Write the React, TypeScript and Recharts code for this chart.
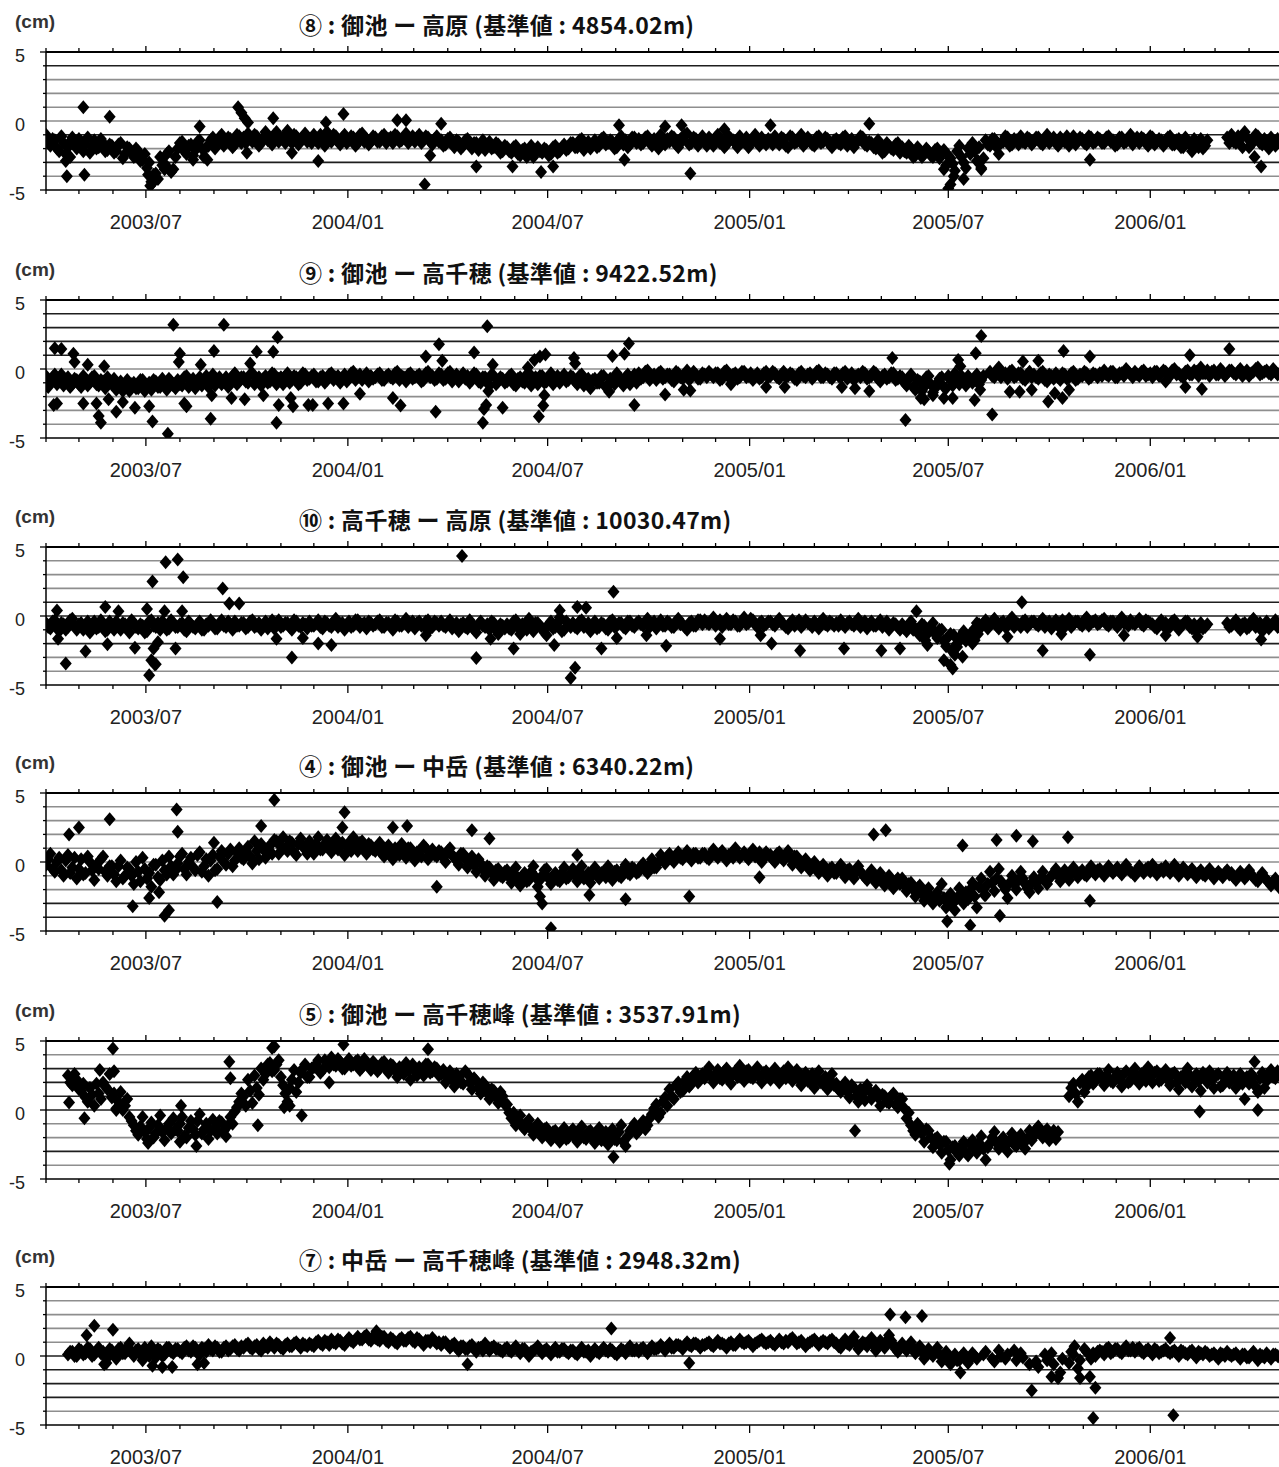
import React from 'react';
import { ScatterChart, Scatter, XAxis, YAxis, CartesianGrid } from 'recharts';

// ---------- categories / ticks ----------
const MONTHS = [
  '2003/04', '2003/05', '2003/06', '2003/07', '2003/08', '2003/09', '2003/10', '2003/11', '2003/12',
  '2004/01', '2004/02', '2004/03', '2004/04', '2004/05', '2004/06', '2004/07', '2004/08', '2004/09',
  '2004/10', '2004/11', '2004/12', '2005/01', '2005/02', '2005/03', '2005/04', '2005/05', '2005/06',
  '2005/07', '2005/08', '2005/09', '2005/10', '2005/11', '2005/12', '2006/01', '2006/02', '2006/03',
  '2006/04', '2006/05',
];
const LABELED_MONTHS = ['2003/07', '2004/01', '2004/07', '2005/01', '2005/07', '2006/01'];
const Y_TICKS = [-5, -4, -3, -2, -1, 0, 1, 2, 3, 4, 5];
const Y_LABELS = [5, 0, -5];
// main readings: one every 4 days from 2003/04/01; "mid" readings: the days in between (offset 2 days)
const STEP_DAYS = 4;
const MID_OFFSET = 2;

const START = Date.UTC(2003, 3, 1);
const dayOf = (ym: string) => {
  const [y, m] = ym.split('/').map(Number);
  return Math.round((Date.UTC(y, m - 1, 1) - START) / 86400000);
};
const MONTH_DAYS = MONTHS.map(dayOf);
const LABEL_BY_DAY: Record<number, string> = {};
LABELED_MONTHS.forEach((m) => (LABEL_BY_DAY[dayOf(m)] = m));
const X_END = MONTH_DAYS[MONTH_DAYS.length - 1];

type V = number | null;

// ---------- ⑧ 御池 − 高原 ----------
const miikeTakaharu: V[] = [
  -1.0, -1.8, -1.4, -2.2, -1.6, -1.9, -1.2, -2.0, -1.5, -1.7, -2.3, -1.4, -1.9, -1.6, -2.1,
  -1.8, -2.2, -1.6, -2.4, -2.0, -2.6, -2.2, -2.8, -3.4, -4.4, -3.8, -2.6, -3.1, -2.2, -3.5,
  -2.0, -1.5, -2.4, -1.7, -2.1, -1.4, -2.6, -1.8, -1.2, -1.6, -1.0, -1.5, -1.3, -1.7, -1.1,
  -1.2, -0.9, -1.5, -1.1, -1.6, -0.8, -1.3, -1.0, -1.5, -1.2, -0.7, -1.6, -1.1, -1.4, -0.9,
  -1.3, -1.0, -1.6, -1.2, -0.8, -1.5, -1.1, -1.7, -1.0, -1.4, -1.2, -1.6, -0.9, -1.3, -1.5,
  -1.2, -1.5, -1.0, -1.3, -1.6, -1.1, -1.4, -0.9, -1.3, -1.5, -1.0, -1.4, -1.2, -1.7, -1.1,
  -1.4, -1.7, -1.2, -1.9, -1.5, -1.8, -1.3, -2.0, -1.6, -1.8, -2.1, -1.5, -1.9, -1.7, -2.2,
  -1.9, -2.3, -1.8, -2.5, -2.0, -2.2, -2.6, -1.9, -2.3, -2.1, -2.4, -1.8, -2.2, -1.7, -2.0,
  -1.6, -1.9, -1.3, -1.7, -2.0, -1.4, -1.8, -1.2, -1.6, -1.5, -1.9, -1.1, -1.4, -1.7, -1.2,
  -1.3, -1.6, -1.1, -1.8, -1.4, -1.0, -1.7, -1.5, -1.2, -1.9, -1.4, -0.9, -1.6, -1.3, -1.5,
  -1.5, -1.2, -1.8, -1.0, -1.4, -1.7, -1.3, -1.6, -1.1, -1.5, -1.9, -1.3, -1.6, -1.2, -1.7,
  -1.4, -1.1, -1.7, -1.3, -1.9, -1.2, -1.5, -1.0, -1.6, -1.4, -1.8, -1.1, -1.5, -1.3, -1.9,
  -1.3, -1.7, -1.1, -1.5, -1.9, -1.4, -1.2, -1.8, -1.6, -2.0, -1.7, -2.2, -1.8, -2.1, -1.6,
  -1.9, -2.3, -2.0, -2.5, -2.1, -2.4, -2.2, -2.6, -2.0, -2.3, -3.2, -2.7, -3.6, -1.8, -3.0,
  -2.0, -1.6, -2.9, -3.4, -1.4, -1.8, -1.3, -2.4, -1.5, -1.2, -1.7, -1.4, -1.1, -1.6, -1.3,
  -1.5, -1.2, -1.7, -1.0, -1.4, -1.6, -1.2, -1.5, -1.8, -1.1, -1.4, -1.3, -1.7, -1.2, -1.5,
  -1.3, -1.6, -1.1, -1.4, -1.7, -1.2, -1.5, -1.0, -1.4, -1.6, -1.3, -1.8, -1.2, -1.5, -1.4,
  -1.4, -1.1, -1.7, -1.3, -1.9, -1.5, -2.2, -1.6, -1.3, -1.8, null, null, null, null, -1.2,
  -1.0, -1.6, -1.3, -0.8, -1.9, -1.4, -1.1, -1.7, -1.5, -1.2, -1.8, -1.6,
];
const miikeTakaharuMid: V[] = [
  -1.6, -1.3, -2.0, -1.1, -2.4, -1.5, -1.7, -1.3, -2.2, -1.2, -1.8, -2.0, -1.3, -2.2, -1.7,
  -2.3, -1.7, -2.7, -1.9, -2.3, -2.0, -2.9, -2.4, -3.0, -3.9, -4.2, -3.2, -2.4, -3.7, -2.6,
  -1.6, -2.2, -1.8, -2.5, -1.5, -2.0, -1.9, -1.4, -2.0, -1.2, -1.8, -1.2, -1.9, -1.0, -1.6,
  -1.6, -1.3, -1.0, -1.8, -1.2, -1.4, -1.7, -0.8, -1.3, -1.6, -1.3, -1.0, -1.7, -1.2, -1.5,
  -1.6, -1.4, -1.0, -1.8, -1.3, -1.0, -1.5, -1.2, -1.6, -1.1, -1.8, -1.0, -1.5, -1.7, -1.1,
  -1.5, -1.1, -1.6, -1.2, -1.0, -1.5, -1.2, -1.6, -1.1, -1.2, -1.6, -1.1, -1.5, -1.3, -1.5,
  -1.8, -1.3, -1.6, -1.4, -2.0, -1.4, -1.7, -1.6, -2.1, -1.4, -1.7, -2.0, -1.6, -2.3, -1.8,
  -2.2, -1.9, -2.4, -2.1, -2.6, -1.8, -2.3, -2.2, -2.0, -2.5, -1.9, -2.3, -1.9, -2.1, -1.6,
  -1.9, -1.4, -2.1, -1.5, -1.7, -1.9, -1.3, -1.7, -1.4, -2.0, -1.3, -1.7, -1.9, -1.2, -1.6,
  -1.7, -1.2, -1.5, -1.3, -2.0, -1.6, -1.3, -1.1, -1.7, -1.3, -1.0, -1.7, -1.2, -1.8, -1.1,
  -1.8, -1.4, -1.2, -1.6, -1.9, -1.1, -1.4, -1.9, -1.5, -1.2, -1.6, -1.0, -1.8, -1.5, -1.3,
  -1.7, -1.5, -1.2, -1.8, -1.1, -1.6, -1.3, -1.8, -1.2, -1.7, -1.2, -1.6, -1.2, -1.7, -1.4,
  -1.6, -1.2, -1.8, -1.3, -1.6, -1.1, -1.7, -1.5, -1.9, -1.4, -2.3, -1.6, -2.0, -1.7, -2.3,
  -2.2, -1.8, -2.6, -1.9, -2.6, -2.0, -2.5, -2.1, -2.7, -2.1, -2.5, -3.1, -2.2, -2.6, -3.4,
  -2.4, -2.2, -1.9, -2.7, -1.7, -1.3, -1.9, -1.6, -1.1, -1.8, -1.3, -1.7, -1.5, -1.2, -1.7,
  -1.2, -1.6, -1.3, -1.6, -1.2, -1.8, -1.4, -1.1, -1.4, -1.7, -1.2, -1.6, -1.1, -1.6, -1.2,
  -1.6, -1.2, -1.5, -1.8, -1.2, -1.6, -1.3, -1.7, -1.2, -1.2, -1.6, -1.1, -1.7, -1.3, -1.8,
  -1.2, -1.7, -1.4, -1.9, -1.2, -1.7, -1.3, -1.9, -2.0, -1.4, null, null, null, null, -1.6,
  -1.5, -1.1, -1.9, -1.2, -1.7, -1.0, -1.6, -1.3, -2.0, -1.6, -1.3,
];
const miikeTakaharuExtra: [number, number][] = [
  [18, -2.9], [22, -2.6], [19, -4.0], [34, 1.0], [35, -3.9], [58, 0.3], [93, -3.9], [95, -4.7],
  [97, -4.5], [99, -4.3], [108, -3.5], [112, -3.5], [134, -2.8], [140, -0.4], [147, -2.8],
  [175, 1.0], [178, 0.6], [181, 0.2], [184, -0.1], [183, -2.3], [207, 0.2], [224, -2.3],
  [248, -2.9], [255, -0.1], [271, 0.5], [320, 0.05], [328, 0.05], [345, -4.6], [350, -2.5],
  [360, -0.2], [392, -3.3], [425, -3.3], [451, -3.7], [462, -3.3], [522, -0.3], [527, -2.8],
  [564, -0.4], [579, -0.3], [587, -3.8], [618, -0.6], [660, -0.3], [750, -0.2], [818, -3.5],
  [822, -4.9], [824, -4.6], [827, -4.0], [836, -4.2], [849, -2.9], [852, -3.5], [951, -2.8],
  [1101, -2.6], [1107, -3.3],
];

// ---------- ⑨ 御池 − 高千穂 ----------
const miikeTakachiho: V[] = [
  -0.5, -1.0, -0.4, -0.9, -1.2, -0.6, -1.1, -0.8, -1.3, -0.7, -1.0, -0.5, -1.2, -0.9, -0.6,
  -1.1, -1.5, -0.9, -1.3, -1.6, -1.0, -1.4, -0.8, -1.2, -1.5, -0.9, -1.3, -1.1, -0.7, -1.2,
  -0.8, -1.2, -0.5, -1.0, -1.4, -0.6, -0.9, -1.3, -0.4, -0.8, -1.1, -0.6, -1.0, -0.3, -0.9,
  -0.6, -1.0, -0.3, -0.8, -1.2, -0.5, -0.9, -0.4, -0.7, -1.1, -0.3, -0.8, -0.6, -1.0, -0.4,
  -0.7, -0.4, -0.9, -0.5, -0.8, -0.3, -0.6, -1.0, -0.4, -0.7, -0.2, -0.6, -0.8, -0.3, -0.5,
  -0.6, -0.3, -0.8, -0.4, -0.7, -0.2, -0.5, -0.9, -0.3, -0.6, -0.4, -0.8, -0.2, -0.5, -0.7,
  -0.4, -0.7, -0.2, -0.6, -0.9, -0.3, -0.5, -0.8, -0.4, -1.0, -0.6, -1.2, -0.5, -0.9, -0.7,
  -0.9, -0.4, -1.2, -0.6, -1.0, -0.3, -0.8, -1.1, -0.5, -0.9, -0.3, -0.7, -1.0, -0.4, -0.8,
  -0.6, -1.1, -0.4, -0.9, -1.4, -0.7, -1.0, -0.5, -1.2, -0.8, -0.3, -0.9, -0.6, -1.1, -0.4,
  -0.3, -0.6, -0.1, -0.5, -0.8, -0.2, -0.6, -0.4, -0.9, -0.3, -0.7, -0.1, -0.5, -0.4, -0.7,
  -0.4, -0.2, -0.6, -0.3, -0.7, -0.1, -0.5, -0.3, -0.6, -0.2, -0.5, -0.8, -0.3, -0.6, -0.2,
  -0.5, -0.3, -0.7, -0.2, -0.5, -0.4, -0.8, -0.2, -0.6, -0.3, -0.5, -0.1, -0.6, -0.4, -0.7,
  -0.3, -0.6, -0.2, -0.5, -0.8, -0.4, -0.2, -0.7, -0.5, -0.3, -0.9, -0.4, -0.6, -0.3, -0.7,
  -0.6, -1.2, -0.4, -1.5, -0.9, -1.3, -0.5, -1.7, -1.0, -0.6, -1.4, -0.8, -0.3, -1.1, -0.7,
  -0.5, -1.0, -0.4, -0.8, null, -0.2, -0.6, 0.1, -0.4, -0.7, -0.1, -0.5, -0.3, -0.8, -0.2,
  -0.4, -0.7, -0.2, -0.9, -0.5, -0.3, -0.8, -0.4, -0.6, -0.2, -0.7, -0.5, -0.3, -0.6, -0.4,
  -0.3, -0.1, -0.5, -0.2, -0.6, -0.3, 0.0, -0.4, -0.2, -0.5, -0.1, -0.4, -0.6, -0.2, -0.3,
  -0.2, -0.5, 0.0, -0.3, -0.6, -0.1, -0.4, -0.2, 0.1, -0.3, -0.5, -0.1, -0.4, -0.2, -0.3,
  -0.1, -0.4, 0.0, -0.3, -0.5, -0.2, 0.1, -0.3, -0.1, -0.4, -0.2, -0.3,
];
const miikeTakachihoMid: V[] = [
  -1.3, -0.6, -1.1, -0.4, -0.8, -1.3, -0.7, -1.1, -0.5, -1.2, -0.6, -1.1, -0.8, -1.4, -1.0,
  -0.7, -1.2, -1.6, -0.8, -1.1, -1.4, -0.8, -1.6, -1.0, -0.8, -1.3, -0.7, -1.5, -0.9, -1.4,
  -1.1, -0.6, -1.3, -0.7, -0.9, -1.2, -0.5, -1.0, -1.2, -0.6, -0.9, -1.3, -0.5, -1.1, -0.6,
  -0.9, -0.4, -1.1, -0.6, -0.7, -1.0, -0.3, -1.1, -0.6, -0.5, -1.0, -0.5, -1.1, -0.3, -0.8,
  -0.5, -0.9, -0.6, -1.0, -0.4, -0.8, -0.5, -0.7, -0.9, -0.3, -0.8, -0.4, -0.5, -0.9, -0.7,
  -0.4, -0.8, -0.5, -0.6, -0.3, -0.8, -0.6, -0.4, -0.7, -0.5, -0.9, -0.3, -0.6, -0.8, -0.3,
  -0.8, -0.3, -0.9, -0.4, -0.6, -0.7, -1.0, -0.3, -0.9, -0.6, -0.8, -0.4, -1.1, -0.6, -1.0,
  -0.5, -1.1, -0.7, -0.9, -0.4, -1.2, -0.6, -0.5, -1.0, -0.6, -1.1, -0.5, -0.6, -0.9, -0.5,
  -0.9, -0.5, -1.2, -0.7, -0.8, -1.0, -0.5, -1.3, -0.7, -1.1, -0.6, -1.2, -0.4, -0.8, -1.0,
  -0.7, -0.2, -0.8, -0.4, -0.3, -0.7, -0.4, -0.8, -0.2, -0.6, -0.4, -0.8, -0.2, -0.7, -0.3,
  -0.6, -0.4, -0.3, -0.8, -0.2, -0.6, -0.4, -0.7, -0.2, -0.6, -0.3, -0.5, -0.7, -0.3, -0.6,
  -0.2, -0.6, -0.4, -0.6, -0.3, -0.7, -0.3, -0.5, -0.4, -0.7, -0.2, -0.6, -0.3, -0.6, -0.3,
  -0.5, -0.3, -0.7, -0.3, -0.5, -0.6, -0.3, -0.6, -0.2, -0.7, -0.5, -0.7, -0.3, -0.8, -0.5,
  -1.0, -0.7, -1.3, -0.8, -1.6, -0.6, -1.1, -1.4, -0.7, -1.3, -0.5, -1.2, -0.8, -0.5, -1.2,
  -0.8, -0.6, -1.1, -0.5, null, -0.5, -0.1, -0.6, -0.3, -0.2, -0.6, -0.3, -0.7, -0.4, -0.6,
  -0.6, -0.3, -0.8, -0.4, -0.7, -0.6, -0.3, -0.7, -0.3, -0.8, -0.4, -0.2, -0.7, -0.3, -0.6,
  -0.5, -0.4, -0.2, -0.6, -0.3, -0.5, -0.2, -0.6, -0.4, -0.2, -0.5, -0.3, -0.2, -0.5, -0.1,
  -0.4, -0.1, -0.4, -0.5, -0.2, -0.4, -0.1, -0.5, -0.3, -0.1, -0.2, -0.4, 0.0, -0.5, -0.1,
  -0.3, -0.2, -0.5, -0.1, -0.3, 0.0, -0.4, -0.2, -0.3, 0.0, -0.4,
];
const miikeTakachihoExtra: [number, number][] = [
  [8, 1.5], [14, 1.45], [7, -2.6], [10, -2.5], [25, 1.1], [26, 0.5], [34, -2.5], [38, 0.3],
  [46, -2.5], [48, -3.4], [50, -3.9], [53, 0.2], [57, -2.2], [64, -3.1], [70, -2.4], [81, -2.8],
  [94, -2.7], [97, -3.8], [111, -4.7], [116, 3.2], [122, 1.1], [121, 0.5], [126, -2.5],
  [128, -2.7], [141, 0.3], [153, 1.3], [150, -3.6], [151, -1.9], [162, 3.2], [169, -2.1],
  [181, -2.2], [186, 0.4], [192, 1.25], [207, 1.25], [211, 2.3], [198, -1.9], [212, -2.6],
  [210, -3.9], [223, -2.1], [225, -2.7], [239, -2.6], [243, -2.6], [257, -2.5], [271, -2.5],
  [286, -1.8], [316, -2.1], [323, -2.65], [346, 0.9], [358, 1.8], [361, 0.6], [355, -3.1],
  [390, 1.2], [402, 3.1], [407, 0.3], [403, -1.6], [401, -2.6], [399, -2.9], [398, -3.9],
  [416, -2.8], [439, 0.1], [445, 0.65], [450, 0.9], [455, 1.05], [454, -1.9], [453, -2.65],
  [449, -3.45], [481, 0.8], [482, 0.4], [516, 0.95], [513, -1.65], [531, 1.85], [527, 1.1],
  [536, -2.6], [564, -1.85], [581, -1.5], [587, -1.55], [624, -1.1], [656, -1.3], [673, -1.3],
  [725, -1.3], [737, -1.4], [750, -1.6], [771, 0.8], [783, -3.7], [797, -2.1], [800, -2.2],
  [808, -1.9], [818, -2.1], [826, -2.1], [831, 0.65], [833, 0.2], [847, 1.15], [852, 2.4],
  [846, -2.25], [851, -1.5], [862, -3.3], [878, -1.65], [887, -1.65], [898, -1.5], [890, 0.55],
  [904, 0.6], [913, -2.35], [919, -1.75], [926, -2.1], [932, -1.5], [927, 1.3], [951, 0.9],
  [1020, -0.9], [1038, -1.3], [1053, -1.45], [1042, 1.0], [1078, 1.45],
];

// ---------- ⑩ 高千穂 − 高原 ----------
const takachihoTakaharu: V[] = [
  -0.5, -0.9, -0.3, -1.1, -0.6, -0.8, -0.2, -1.0, -0.5, -0.7, -1.2, -0.4, -0.8, -0.6, -1.0,
  -0.7, -0.4, -1.0, -0.6, -1.2, -0.5, -0.9, -0.7, -1.1, -0.3, -0.8, -1.0, -0.6, -0.9, -0.5,
  -0.8, -0.5, -1.1, -0.6, -0.9, -0.4, -1.0, -0.7, -0.5, -0.9, -0.3, -0.8, -0.6, -0.4, -0.7,
  -0.5, -0.8, -0.3, -0.7, -1.0, -0.4, -0.6, -0.9, -0.3, -0.7, -0.5, -1.0, -0.4, -0.8, -0.6,
  -0.4, -0.7, -0.3, -0.9, -0.5, -0.8, -0.2, -0.6, -1.0, -0.4, -0.7, -0.3, -0.6, -0.9, -0.5,
  -0.6, -0.3, -0.8, -0.5, -1.0, -0.4, -0.7, -0.2, -0.6, -0.9, -0.4, -0.7, -0.3, -0.8, -0.5,
  -0.4, -0.8, -0.3, -0.7, -1.1, -0.5, -0.9, -0.6, -1.2, -0.4, -0.8, -1.0, -0.5, -1.3, -0.7,
  -0.6, -1.0, -0.3, -1.3, -0.7, -0.2, -1.1, -0.5, -0.9, -1.4, -0.4, -0.8, -0.1, -1.0, -0.6,
  -0.5, -0.9, -0.3, -0.7, -1.1, -0.4, -0.8, -0.6, -1.0, -0.3, -0.7, -0.5, -0.9, -0.4, -0.8,
  -0.4, -0.7, -0.2, -0.6, -0.9, -0.3, -0.7, -0.5, -0.8, -0.2, -0.6, -1.0, -0.4, -0.7, -0.3,
  -0.3, -0.6, -0.1, -0.5, -0.8, -0.2, -0.6, -0.4, -0.7, -0.1, -0.5, -0.3, -0.8, -0.4, -0.6,
  -0.4, -0.7, -0.2, -0.6, -0.9, -0.3, -0.5, -0.8, -0.3, -0.6, -0.4, -0.9, -0.2, -0.7, -0.5,
  -0.5, -0.3, -0.8, -0.4, -0.7, -0.2, -0.6, -0.9, -0.4, -0.7, -0.3, -0.6, -1.0, -0.5, -0.8,
  -0.6, -1.1, -0.4, -0.9, -1.4, -0.7, -1.2, -0.5, -1.6, -1.0, -2.2, -1.3, -2.8, -1.6, -1.1,
  -1.6, -1.2, -0.5, -0.8, -0.3, -0.6, -0.2, -0.9, -0.4, -0.7, -0.1, -0.5, -0.8, -0.3, -0.6,
  -0.4, -0.7, -0.2, -0.6, -0.9, -0.3, -0.5, -0.8, -0.2, -0.6, -0.4, -0.7, -0.1, -0.5, -0.3,
  -0.5, -0.2, -0.7, -0.4, -0.8, -0.1, -0.5, -0.3, -0.6, -0.2, -0.7, -0.4, -0.6, -0.9, -0.3,
  -0.5, -0.8, -0.3, -1.0, -0.6, -0.4, -0.9, -1.1, -0.5, -0.8, null, null, null, null, -0.5,
  -0.7, -0.3, -1.0, -0.5, -0.8, -0.2, -0.6, -1.1, -0.4, -0.7, -0.3, -0.6,
];
const takachihoTakaharuMid: V[] = [
  -0.8, -0.4, -0.7, -0.5, -1.0, -0.3, -0.7, -0.6, -1.0, -0.4, -0.6, -0.9, -0.3, -1.1, -0.4,
  -1.0, -0.8, -0.5, -0.9, -0.3, -0.8, -0.6, -1.2, -0.4, -0.7, -0.5, -0.4, -1.0, -0.3, -0.8,
  -0.6, -1.0, -0.4, -0.8, -0.6, -1.0, -0.6, -0.3, -0.9, -0.6, -0.7, -0.4, -1.0, -0.7, -0.5,
  -0.9, -0.4, -0.8, -0.5, -0.7, -0.9, -0.3, -0.5, -0.8, -0.5, -0.8, -0.3, -0.7, -0.5, -0.9,
  -0.7, -0.5, -0.8, -0.4, -0.7, -0.4, -0.8, -0.5, -0.6, -0.8, -0.3, -0.8, -0.5, -0.4, -0.7,
  -0.4, -0.8, -0.5, -0.7, -0.3, -0.7, -0.5, -0.8, -0.4, -0.5, -0.7, -0.4, -0.9, -0.4, -0.7,
  -0.7, -0.5, -0.9, -0.5, -0.6, -0.8, -0.3, -1.0, -0.6, -0.7, -0.6, -0.4, -1.0, -0.6, -0.9,
  -0.9, -0.4, -0.8, -0.6, -1.0, -0.8, -0.5, -0.7, -1.2, -0.6, -0.9, -0.5, -1.1, -0.4, -0.8,
  -0.8, -0.4, -0.8, -0.5, -0.6, -0.9, -0.5, -0.9, -0.4, -0.8, -0.5, -0.8, -0.4, -0.7, -0.5,
  -0.6, -0.4, -0.8, -0.4, -0.6, -0.7, -0.4, -0.8, -0.4, -0.6, -0.8, -0.5, -0.7, -0.3, -0.6,
  -0.5, -0.4, -0.7, -0.3, -0.5, -0.6, -0.3, -0.7, -0.4, -0.6, -0.2, -0.6, -0.5, -0.7, -0.4,
  -0.6, -0.4, -0.5, -0.8, -0.5, -0.7, -0.3, -0.6, -0.5, -0.8, -0.6, -0.4, -0.6, -0.4, -0.7,
  -0.7, -0.6, -0.5, -0.6, -0.4, -0.8, -0.4, -0.6, -0.7, -0.5, -0.8, -0.4, -0.7, -0.6, -1.0,
  -0.9, -0.6, -1.0, -1.2, -0.6, -1.0, -0.8, -1.3, -1.0, -1.8, -1.5, -2.5, -2.0, -1.4, -1.8,
  -1.3, -0.9, -0.6, -0.5, -0.9, -0.4, -0.7, -0.5, -0.8, -0.3, -0.8, -0.6, -0.4, -0.8, -0.4,
  -0.6, -0.4, -0.8, -0.4, -0.5, -0.7, -0.3, -0.5, -0.8, -0.4, -0.6, -0.3, -0.7, -0.4, -0.6,
  -0.3, -0.6, -0.4, -0.6, -0.3, -0.5, -0.7, -0.5, -0.4, -0.6, -0.3, -0.5, -0.8, -0.5, -0.7,
  -0.7, -0.4, -0.6, -0.7, -0.4, -0.8, -0.6, -0.7, -0.9, -0.6, null, null, null, null, -0.8,
  -0.5, -0.8, -0.6, -0.9, -0.4, -0.8, -0.5, -0.7, -0.9, -0.5, -0.8,
];
const takachihoTakaharuExtra: [number, number][] = [
  [10, 0.4], [11, -1.65], [18, -3.45], [36, -2.55], [54, 0.65], [56, -2.05], [66, 0.35],
  [81, -2.3], [92, 0.5], [97, 2.5], [109, 3.9], [120, 4.1], [125, 2.8], [118, -2.35],
  [96, -3.2], [99, -3.5], [94, -4.3], [100, -3.5], [98, -2.35], [102, -1.9], [108, 0.35],
  [124, 0.35], [161, 2.0], [167, 0.9], [176, 0.9], [210, -1.65], [234, -1.6], [248, -2.0],
  [260, -2.1], [224, -3.0], [346, -1.4], [379, 4.35], [392, -3.05], [426, -2.35], [405, -1.65],
  [468, 0.4], [484, 0.65], [492, 0.6], [463, -2.1], [482, -3.75], [478, -4.5], [506, -2.35],
  [517, 1.75], [520, -1.6], [547, -1.4], [565, -2.15], [614, -1.65], [651, -1.4], [661, -2.0],
  [687, -2.5], [727, -2.35], [761, -2.5], [778, -2.35], [793, 0.35], [801, -1.75], [803, -2.1],
  [818, -3.2], [824, -3.55], [826, -3.8], [825, -2.5], [830, -2.25], [835, -2.95], [827, -1.4],
  [846, -1.75], [849, -1.3], [844, -2.0], [876, -1.5], [889, 1.0], [908, -2.5], [925, -1.3],
  [951, -2.8], [982, -1.4], [1020, -1.4], [1049, -1.5], [1107, -1.7],
];

// ---------- ④ 御池 − 中岳 ----------
const miikeNakadake: V[] = [
  -0.2, 0.6, -0.7, 0.3, -1.0, 0.5, -0.4, -1.2, 0.2, -0.8, 0.0, -1.3, -0.5, 0.4, -1.0,
  -0.3, -1.4, 0.1, -1.0, -0.5, -1.6, -0.7, 0.3, -1.2, -1.8, -0.2, -1.3, -0.6, 0.4, -0.9,
  -0.1, 0.6, -0.9, 0.3, -0.6, 0.7, -0.3, -1.0, 0.5, -0.5, 0.8, -0.2, 0.9, 0.1, 1.0,
  0.2, 1.1, -0.1, 0.8, 1.3, 0.3, 1.2, 1.6, 0.6, 1.8, 0.8, 1.4, 0.5, 1.7, 1.0,
  1.5, 0.6, 1.8, 0.9, 1.6, 0.7, 1.7, 1.1, 0.5, 1.4, 1.8, 0.8, 1.5, 0.6, 1.2,
  0.8, 1.4, 0.4, 1.2, 0.2, 0.9, 1.3, 0.3, 1.0, 0.1, 0.8, 1.2, 0.2, 0.9, 0.4,
  0.7, 0.0, 1.0, 0.3, -0.2, 0.6, -0.4, 0.4, -0.7, -0.1, -1.0, -0.4, -1.3, -0.5, -1.1,
  -0.6, -1.5, -0.4, -1.7, -0.8, -1.3, -0.3, -1.8, -1.0, -0.5, -1.6, -0.8, -1.4, -0.4, -1.1,
  -0.5, -1.4, -0.3, -1.1, -1.5, -0.4, -1.2, -0.7, -0.3, -1.3, -0.6, -1.1, -0.2, -0.9, -0.5,
  -0.7, -0.1, -0.8, 0.2, -0.4, 0.5, -0.1, 0.6, 0.0, 0.7, 0.2, 0.8, 0.1, 0.6, 0.3,
  0.6, 0.2, 0.9, 0.3, 0.8, 0.1, 0.6, 1.0, 0.3, 0.7, 0.2, 0.9, 0.5, 0.0, 0.7,
  0.5, 0.0, 0.7, 0.1, 0.8, -0.2, 0.4, -0.4, 0.2, -0.6, 0.0, -0.8, -0.2, -1.0, -0.4,
  -0.8, -0.2, -1.1, -0.5, -1.2, -0.3, -0.9, -1.3, -0.6, -1.5, -0.8, -1.7, -1.0, -1.9, -1.2,
  -1.2, -2.1, -1.5, -2.5, -1.7, -2.8, -1.9, -3.0, -2.2, -1.6, -3.3, -2.3, -3.5, -1.9, -3.0,
  -2.7, -1.5, -3.3, -1.2, -2.4, -0.7, -2.1, -0.5, -1.7, -2.6, -1.0, -2.0, -0.7, -1.6, -2.2,
  -1.1, -1.9, -0.7, -1.6, -1.0, -0.5, -1.4, -0.6, -1.3, -0.4, -1.1, -0.6, -1.0, -0.3, -0.9,
  -0.5, -1.0, -0.3, -0.8, -0.4, -0.9, -0.2, -0.7, -1.0, -0.3, -0.8, -0.4, -0.2, -0.9, -0.5,
  -0.3, -0.8, -0.2, -1.0, -0.4, -0.9, -0.5, -1.1, -0.6, -1.0, -0.5, -1.2, -0.7, -1.1, -0.6,
  -0.8, -1.3, -0.7, -1.2, -0.6, -1.1, -1.4, -0.8, -1.3, -1.7, -1.2, -1.9,
];
const miikeNakadakeMid: V[] = [
  0.2, -0.5, 0.0, -0.6, 0.1, -0.8, 0.3, -0.5, -0.9, 0.4, -0.6, -0.2, 0.2, -0.7, -0.3,
  -0.9, -0.3, -1.2, -0.4, -1.0, 0.0, -1.4, -0.5, -0.8, -0.2, -1.1, 0.1, -0.9, -0.3, -0.6,
  0.4, -0.5, 0.0, -0.4, 0.5, -0.7, 0.2, 0.1, -0.6, 0.4, 0.0, 0.6, -0.3, 0.7, 0.3,
  0.7, 0.4, 1.5, 0.2, 0.9, 1.0, 0.6, 1.5, 1.1, 1.0, 1.5, 0.7, 1.3, 1.1, 0.6,
  1.0, 1.3, 0.9, 1.3, 1.1, 1.4, 0.9, 1.4, 1.2, 0.8, 1.2, 1.4, 1.0, 1.3, 0.9,
  1.1, 0.6, 1.0, 0.7, 1.0, 0.5, 0.8, 1.0, 0.6, 0.7, 0.4, 1.0, 0.6, 0.5, 0.8,
  0.3, 0.8, 0.5, 0.1, 0.6, 0.2, 0.1, -0.2, 0.2, -0.5, -0.3, -0.8, -0.6, -1.0, -0.7,
  -1.1, -0.8, -1.2, -1.0, -1.4, -0.7, -1.1, -1.3, -0.6, -1.2, -1.0, -1.3, -0.8, -1.2, -0.8,
  -1.0, -0.7, -1.2, -0.8, -0.9, -1.0, -0.8, -1.1, -0.9, -0.7, -1.0, -0.5, -0.8, -0.4, -0.8,
  -0.3, -0.6, -0.2, -0.4, 0.0, 0.1, 0.4, 0.2, 0.5, 0.3, 0.5, 0.4, 0.6, 0.3, 0.6,
  0.3, 0.6, 0.5, 0.6, 0.4, 0.5, 0.3, 0.6, 0.5, 0.4, 0.6, 0.4, 0.7, 0.3, 0.5,
  0.2, 0.6, 0.3, 0.5, 0.3, 0.4, 0.1, 0.0, -0.2, -0.2, -0.5, -0.4, -0.7, -0.5, -0.8,
  -0.5, -0.8, -0.6, -0.8, -0.7, -0.7, -1.1, -0.9, -1.1, -1.1, -1.3, -1.3, -1.5, -1.4, -1.6,
  -1.7, -1.6, -2.0, -1.9, -2.3, -2.1, -2.5, -2.5, -2.8, -2.6, -2.7, -3.0, -2.6, -2.6, -2.2,
  -2.0, -2.5, -1.8, -2.0, -1.6, -1.5, -1.2, -1.4, -2.0, -1.5, -1.6, -1.3, -1.2, -1.9, -1.5,
  -1.5, -1.2, -1.3, -1.2, -0.8, -1.0, -1.0, -0.9, -0.8, -0.8, -0.8, -0.9, -0.6, -0.7, -0.6,
  -0.8, -0.6, -0.6, -0.6, -0.7, -0.5, -0.5, -0.8, -0.6, -0.6, -0.5, -0.7, -0.6, -0.6, -0.7,
  -0.6, -0.5, -0.6, -0.7, -0.6, -0.7, -0.8, -0.8, -0.9, -0.7, -0.9, -0.9, -0.9, -0.8, -0.9,
  -1.1, -1.0, -0.9, -1.0, -0.9, -1.3, -1.1, -1.1, -1.5, -1.4, -1.6,
];
const miikeNakadakeExtra: [number, number][] = [
  [21, 2.0], [30, 2.5], [58, 3.1], [79, -3.2], [94, -2.6], [119, 3.8], [120, 2.2], [112, -3.5],
  [108, -3.9], [103, -2.2], [153, 1.4], [156, -2.9], [208, 4.5], [196, 2.6], [272, 3.6],
  [270, 2.5], [316, 2.5], [329, 2.6], [388, 2.3], [404, 1.7], [356, -1.8], [450, -2.5],
  [452, -3.0], [460, -4.8], [484, 0.5], [495, -2.4], [528, -2.7], [586, -2.5], [650, -1.1],
  [765, 2.3], [754, 2.0], [821, -4.3], [842, -4.6], [835, 1.2], [866, 1.6], [884, 1.9],
  [869, -3.9], [899, 1.5], [931, 1.8], [951, -2.8], [855, -2.4],
];

// ---------- ⑤ 御池 − 高千穂峰 ----------
const miikeTakachihonomine: V[] = [
  null, null, null, null, null, 2.5, 1.8, 2.2, 1.4, 0.9, 1.6, 0.3, 1.2, 2.0, 1.5,
  0.9, 0.1, 1.3, 0.3, -0.5, -1.1, -1.8, -0.5, -2.1, -0.9, -1.7, -0.4, -2.2, -1.0, -0.6,
  -1.5, -0.5, -2.0, -0.8, -1.8, -0.3, -1.4, -2.1, -0.7, -1.7, -0.9, -1.9, -0.5, -0.1, 0.6,
  1.0, 2.2, 0.5, 1.6, 3.0, 2.6, 3.4, 2.9, 3.6, 1.8, 0.6, 2.2, 1.3, 2.7, 3.3,
  2.4, 3.1, 3.6, 2.9, 3.4, 3.8, 3.2, 3.5, 3.0, 3.7, 3.3, 3.6, 3.1, 3.4, 2.9,
  3.3, 3.0, 3.5, 2.7, 3.2, 2.4, 2.9, 3.4, 2.2, 2.8, 3.1, 2.5, 3.3, 2.8, 3.0,
  2.6, 2.0, 2.8, 1.7, 2.4, 1.9, 2.6, 1.5, 2.1, 1.2, 1.8, 0.8, 1.4, 0.5, 1.0,
  0.4, -0.6, -1.1, -0.4, -1.4, -0.7, -1.8, -1.0, -2.0, -1.3, -2.2, -1.5, -2.3, -1.3, -2.0,
  -1.4, -2.3, -1.2, -2.1, -1.5, -2.4, -1.3, -2.0, -2.5, -1.4, -2.2, -1.1, -2.6, -1.5, -1.0,
  -1.5, -0.8, -1.1, -0.3, 0.4, -0.2, 0.9, 1.5, 0.8, 2.0, 1.4, 2.4, 1.9, 2.7, 2.2,
  2.3, 3.1, 2.0, 2.9, 2.2, 3.0, 1.9, 2.8, 3.2, 2.1, 2.9, 2.3, 3.1, 2.0, 2.8,
  2.2, 3.0, 2.0, 2.8, 3.1, 2.1, 2.9, 1.8, 2.7, 2.0, 1.6, 2.8, 1.9, 1.5, 2.6,
  1.9, 1.3, 2.0, 0.9, 1.6, 0.6, 1.2, 1.8, 0.8, 1.4, 0.3, 1.0, 0.5, 1.2, 0.2,
  0.8, -0.6, -1.1, -1.8, -1.2, -2.3, -1.5, -2.7, -2.0, -3.1, -2.3, -3.6, -2.6, -3.3, -2.3,
  -3.3, -2.2, -3.1, -1.9, -3.6, -2.4, -1.6, -2.8, -2.0, -3.0, -1.7, -2.6, -1.8, -2.8, -1.5,
  -1.9, -1.2, -2.0, -1.4, -1.8, -2.1, null, null, 1.0, 1.9, 0.6, 2.2, 1.7, 2.5, 2.1,
  2.6, 1.8, 2.9, 2.0, 2.7, 1.7, 2.8, 2.1, 3.0, 1.9, 2.7, 3.1, 2.0, 2.8, 2.2,
  2.9, 1.8, 2.7, 1.5, 2.5, 3.0, 1.7, 2.6, 1.4, 2.4, 2.8, 1.6, 2.6, 1.8, 2.7,
  2.2, 1.6, 2.6, 0.8, 1.9, 2.4, 1.3, 2.7, 2.1, 2.9, 2.3, 2.6,
];
const miikeTakachihonomineMid: V[] = [
  null, null, null, null, null, 2.0, 2.6, 1.5, 1.9, 0.6, 1.1, 1.9, 0.8, 1.7, 2.6,
  1.2, 0.6, 0.0, 0.8, -0.8, -1.5, -1.2, -1.6, -1.3, -2.0, -1.1, -1.6, -1.3, -1.7, -1.4,
  -1.0, -1.9, -1.3, -1.4, -0.8, -1.7, -1.0, -1.5, -1.3, -0.8, -1.5, -1.1, -1.0, 0.2, 1.2,
  0.3, 1.4, 2.5, 1.1, 2.2, 3.3, 2.8, 3.3, 2.4, 1.2, 1.6, 2.9, 2.0, 3.0, 2.4,
  3.0, 3.3, 2.7, 3.6, 3.1, 3.3, 3.7, 3.0, 3.4, 3.2, 3.5, 2.9, 3.7, 3.2, 3.5,
  2.8, 3.4, 3.0, 3.3, 2.9, 3.1, 2.6, 2.9, 3.3, 2.5, 2.9, 3.3, 2.7, 3.1, 2.5,
  2.9, 2.4, 2.2, 2.6, 2.0, 2.8, 2.0, 2.3, 1.6, 2.0, 1.3, 1.5, 0.9, 1.3, 0.4,
  -0.2, -0.2, -0.7, -1.2, -0.9, -1.4, -1.2, -1.6, -1.4, -1.8, -1.6, -2.0, -1.7, -2.1, -1.6,
  -2.0, -1.7, -2.0, -1.6, -2.1, -1.8, -2.2, -1.6, -2.0, -2.1, -1.6, -2.3, -1.9, -1.3, -1.7,
  -1.1, -1.4, -0.6, 0.1, -0.5, 0.6, 0.3, 1.0, 1.8, 1.3, 2.1, 1.7, 2.5, 2.0, 2.6,
  2.7, 2.4, 2.6, 2.3, 2.8, 2.3, 2.6, 2.4, 2.6, 2.8, 2.4, 2.7, 2.4, 2.7, 2.4,
  2.7, 2.4, 2.6, 2.3, 2.5, 2.7, 2.2, 2.5, 2.1, 2.6, 2.3, 2.0, 2.4, 2.2, 1.8,
  1.5, 1.7, 1.3, 1.8, 1.0, 1.5, 0.7, 1.4, 1.2, 0.9, 1.1, 0.6, 1.0, 0.4, 0.8,
  0.1, -0.2, -1.5, -1.0, -1.7, -1.4, -2.0, -2.1, -2.5, -2.3, -2.9, -2.7, -3.1, -2.6, -3.1,
  -2.5, -2.8, -2.4, -2.8, -2.7, -2.0, -2.4, -2.2, -2.6, -2.2, -2.5, -2.0, -2.4, -2.1, -2.2,
  -1.4, -1.7, -1.6, -2.2, -1.5, -1.6, null, null, 1.6, 1.2, 2.0, 1.3, 2.4, 1.9, 2.6,
  2.2, 2.5, 2.1, 2.4, 2.2, 2.6, 2.0, 2.5, 2.3, 2.6, 2.1, 2.4, 2.7, 2.1, 2.6,
  2.2, 2.6, 2.0, 2.4, 2.0, 2.5, 2.3, 2.1, 2.7, 2.0, 2.2, 2.5, 1.7, 2.3, 2.0,
  2.5, 2.0, 1.9, 2.4, 2.6, 1.7, 2.3, 1.6, 2.5, 2.4, 2.8,
];
const miikeTakachihonomineExtra: [number, number][] = [
  [21, 0.55], [35, -0.6], [61, 4.45], [49, 2.9], [62, 2.8], [64, 0.0], [93, -2.4], [137, -2.6],
  [122, -2.3], [123, 0.3], [167, 3.5], [168, 2.3], [193, -1.1], [208, 4.6], [206, 4.5],
  [217, 0.2], [222, 0.3], [233, -0.4], [271, 4.75], [258, 2.0], [348, 4.4], [517, -3.4],
  [737, -1.5], [823, -3.9], [1101, 3.5], [1104, 0.0], [1051, -0.1],
];

// ---------- ⑦ 中岳 − 高千穂峰 ----------
const nakadakeTakachihonomine: V[] = [
  null, null, null, null, null, 0.1, 0.3, 0.0, 0.4, 0.2, 0.5, 0.1, 0.6, 0.3, -0.1,
  0.4, -0.2, 0.6, 0.2, 0.9, 0.0, 0.5, -0.3, 0.3, 0.7, -0.1, 0.4, 0.1, 0.6, 0.2,
  0.5, 0.2, 0.7, 0.3, 0.6, 0.1, 0.5, 0.8, 0.4, 0.6, 0.3, 0.7, 0.5, 0.8, 0.4,
  0.6, 0.9, 0.5, 0.8, 0.4, 0.7, 1.0, 0.6, 0.8, 0.5, 0.9, 0.7, 1.0, 0.6, 0.8,
  0.9, 0.7, 1.1, 0.8, 1.0, 1.2, 0.9, 1.1, 0.8, 1.3, 1.0, 1.4, 1.2, 1.5, 1.1,
  1.3, 1.1, 1.4, 1.0, 1.2, 0.9, 1.3, 1.1, 1.4, 1.0, 1.2, 0.8, 1.1, 1.3, 0.9,
  0.8, 1.0, 0.6, 0.9, 0.4, 0.7, 0.5, 0.8, 0.3, 0.6, 0.9, 0.4, 0.7, 0.5, 0.3,
  0.6, 0.3, 0.7, 0.2, 0.5, 0.0, 0.4, 0.7, 0.2, 0.5, 0.1, 0.6, 0.3, 0.5, 0.2,
  0.4, 0.1, 0.6, 0.3, 0.0, 0.5, 0.2, 0.6, 0.3, 0.4, 0.1, 0.5, 0.2, 0.7, 0.4,
  0.3, 0.6, 0.2, 0.7, 0.5, 0.8, 0.4, 0.9, 0.6, 0.8, 0.5, 1.0, 0.7, 0.9, 0.6,
  0.8, 1.0, 0.7, 1.1, 0.9, 0.6, 1.0, 0.8, 1.2, 0.9, 1.1, 0.7, 1.0, 1.2, 0.9,
  1.1, 0.8, 1.2, 0.9, 1.0, 1.3, 0.9, 1.1, 0.7, 1.0, 1.2, 0.8, 1.1, 0.9, 1.2,
  0.9, 0.6, 1.2, 0.8, 1.4, 0.5, 1.0, 0.7, 1.3, 0.4, 1.1, 0.6, 1.5, 0.8, 0.3,
  0.9, 0.4, 1.0, 0.2, 0.7, -0.2, 0.5, 0.0, 0.6, -0.4, 0.3, -0.6, 0.1, -0.3, 0.2,
  -0.5, 0.2, -0.2, null, 0.3, null, -0.4, 0.4, null, 0.1, null, -0.3, 0.2, null, -0.6,
  null, -0.8, null, -0.3, 0.2, null, -1.2, null, -0.5, 0.1, -0.9, null, 0.3, -0.2, 0.0,
  0.4, 0.1, 0.6, 0.3, 0.5, 0.2, 0.7, 0.4, 0.3, 0.6, 0.2, 0.5, 0.1, 0.4, 0.3,
  0.5, 0.2, 0.4, 0.0, 0.3, 0.1, 0.4, -0.1, 0.2, 0.3, 0.0, 0.2, -0.2, 0.1, 0.3,
  0.0, 0.2, -0.2, 0.1, -0.1, 0.3, -0.3, 0.0, 0.2, -0.2, 0.1, -0.1,
];
const nakadakeTakachihonomineMid: V[] = [
  null, null, null, null, null, 0.3, 0.0, 0.5, 0.1, 0.6, 0.0, 0.4, 0.2, -0.1, 0.5,
  0.1, 0.5, 0.2, 0.6, 0.3, 0.4, 0.1, 0.6, 0.0, 0.2, 0.5, 0.0, 0.6, 0.3, 0.5,
  0.3, 0.6, 0.4, 0.7, 0.2, 0.6, 0.3, 0.5, 0.7, 0.3, 0.6, 0.4, 0.7, 0.5, 0.7,
  0.8, 0.6, 0.7, 0.5, 0.9, 0.6, 0.8, 0.9, 0.6, 0.8, 0.7, 0.9, 0.8, 0.9, 0.7,
  0.8, 1.0, 0.9, 1.1, 0.8, 1.0, 1.2, 0.9, 1.1, 1.1, 1.2, 1.2, 1.4, 1.2, 1.4,
  1.2, 1.4, 1.1, 1.3, 1.0, 1.2, 1.1, 1.3, 1.1, 1.3, 1.0, 1.1, 1.0, 1.1, 1.0,
  1.0, 0.8, 0.8, 0.6, 0.7, 0.5, 0.7, 0.5, 0.6, 0.4, 0.6, 0.6, 0.5, 0.4, 0.5,
  0.4, 0.5, 0.4, 0.5, 0.3, 0.3, 0.5, 0.4, 0.4, 0.3, 0.4, 0.3, 0.5, 0.3, 0.4,
  0.2, 0.4, 0.3, 0.4, 0.3, 0.3, 0.4, 0.4, 0.5, 0.2, 0.3, 0.4, 0.5, 0.4, 0.5,
  0.5, 0.4, 0.5, 0.5, 0.6, 0.6, 0.7, 0.6, 0.8, 0.7, 0.8, 0.8, 0.9, 0.8, 0.8,
  0.9, 0.8, 0.9, 0.9, 0.8, 0.9, 0.8, 1.0, 1.0, 1.0, 0.9, 0.9, 1.1, 1.0, 1.0,
  0.9, 1.0, 1.0, 1.1, 1.2, 1.1, 1.0, 0.9, 0.9, 1.1, 1.0, 1.0, 1.0, 1.1, 1.0,
  0.7, 1.0, 0.9, 1.1, 0.9, 0.8, 0.9, 1.1, 0.8, 0.8, 0.9, 1.1, 1.1, 0.5, 0.6,
  0.6, 0.7, 0.6, 0.5, 0.3, 0.2, 0.2, 0.3, 0.1, 0.0, -0.1, -0.2, -0.3, 0.0, -0.1,
  -0.2, 0.0, null, 0.1, null, -0.2, null, 0.0, -0.2, null, 0.4, null, -0.1, null, null,
  -0.4, null, 0.1, null, -0.6, null, -0.2, null, 0.3, null, -0.3, 0.5, null, 0.2, 0.3,
  0.3, 0.5, 0.2, 0.5, 0.3, 0.5, 0.4, 0.6, 0.5, 0.3, 0.4, 0.3, 0.5, 0.2, 0.4,
  0.3, 0.3, 0.2, 0.4, 0.2, 0.3, 0.1, 0.3, 0.1, 0.2, 0.1, 0.0, 0.2, 0.0, 0.1,
  0.1, 0.0, 0.1, -0.1, 0.1, 0.0, 0.1, -0.1, 0.0, 0.1, 0.0,
];
const nakadakeTakachihonomineExtra: [number, number][] = [
  [44, 2.2], [37, 1.5], [61, 1.9], [55, -0.5], [53, -0.6], [97, -0.7], [106, -0.8], [115, -0.8],
  [138, -0.6], [144, -0.5], [301, 1.8], [384, -0.6], [515, 2.0], [586, -0.5], [769, 3.0],
  [783, 2.8], [798, 2.9], [833, -1.2], [898, -2.5], [916, -1.5], [922, -1.6], [942, -1.6],
  [937, 0.7], [951, -1.5], [956, -2.3], [954, -4.5], [1024, 1.3], [1027, -4.3],
];

// ---------- panel definitions ----------
const PANELS = [
  { title: '⑧ : 御池 ー 高原 (基準値 : 4854.02m)', main: miikeTakaharu, mid: miikeTakaharuMid, extra: miikeTakaharuExtra, dark: [4, -1, -3] },
  { title: '⑨ : 御池 ー 高千穂 (基準値 : 9422.52m)', main: miikeTakachiho, mid: miikeTakachihoMid, extra: miikeTakachihoExtra, dark: [4, 3, 2, 1] },
  { title: '⑩ : 高千穂 ー 高原 (基準値 : 10030.47m)', main: takachihoTakaharu, mid: takachihoTakaharuMid, extra: takachihoTakaharuExtra, dark: [1, 0, -2] },
  { title: '④ : 御池 ー 中岳 (基準値 : 6340.22m)', main: miikeNakadake, mid: miikeNakadakeMid, extra: miikeNakadakeExtra, dark: [-3, -4] },
  { title: '⑤ : 御池 ー 高千穂峰 (基準値 : 3537.91m)', main: miikeTakachihonomine, mid: miikeTakachihonomineMid, extra: miikeTakachihonomineExtra, dark: [3, 2, 1, 0, -3] },
  { title: '⑦ : 中岳 ー 高千穂峰 (基準値 : 2948.32m)', main: nakadakeTakachihonomine, mid: nakadakeTakachihonomineMid, extra: nakadakeTakachihonomineExtra, dark: [0, -1, -2, -3] },
];

// ---------- layout constants ----------
const PANEL_TOPS = [52, 299.5, 546.5, 793, 1041, 1287];
const MARGIN_TOP = 40;
const PLOT_H = 138;
const X_AXIS_H = 58;
const CHART_W = 1282;
const AXIS_W = 46;
const FONT = '"Liberation Sans", Arial, sans-serif';

type Pt = { d: number; v: number };
const buildPoints = (main: V[], mid: V[], extra: [number, number][]): Pt[] => {
  const pts: Pt[] = [];
  main.forEach((v, i) => {
    if (v !== null) pts.push({ d: i * STEP_DAYS, v });
  });
  mid.forEach((v, i) => {
    if (v !== null) pts.push({ d: i * STEP_DAYS + MID_OFFSET, v });
  });
  extra.forEach(([d, v]) => pts.push({ d, v }));
  return pts;
};

const Diamond = (props: any) => {
  const { cx, cy } = props;
  if (cx == null || cy == null) return null;
  const rx = 6;
  const ry = 7;
  return <polygon points={`${cx},${cy - ry} ${cx + rx},${cy} ${cx},${cy + ry} ${cx - rx},${cy}`} fill="#000" />;
};

const XTick = (props: any) => {
  const { x, y, payload } = props;
  const label = LABEL_BY_DAY[payload.value];
  const major = !!label;
  return (
    <g>
      <line x1={x} x2={x} y1={y} y2={y + (major ? 8 : 4)} stroke="#000" strokeWidth={1.3} />
      <line x1={x} x2={x} y1={y - PLOT_H} y2={y - PLOT_H - (major ? 6 : 4)} stroke="#000" strokeWidth={1.3} />
      {major && (
        <text x={x} y={y + 32} textAnchor="middle" dominantBaseline="central" fontSize={20} fontFamily={FONT} fill="#222">
          {label}
        </text>
      )}
    </g>
  );
};

const YTick = (props: any) => {
  const { x, y, payload } = props;
  const v = payload.value;
  const lab = Y_LABELS.includes(v);
  return (
    <g>
      <line x1={x - (lab ? 6 : 3)} x2={x} y1={y} y2={y} stroke="#000" strokeWidth={1.3} />
      {lab && (
        <text x={x - 21} y={y + 4} textAnchor="end" dominantBaseline="central" fontSize={18} fontFamily={FONT} fill="#222">
          {v}
        </text>
      )}
    </g>
  );
};

const makeGridLine = (dark: number[]) => (props: any) => {
  const { x1, x2, y1 } = props;
  const value = Math.round(5 - (10 * (y1 - MARGIN_TOP)) / PLOT_H);
  if (value === -5) return <g />;
  let stroke = '#8e8e8e';
  let w = 1.6;
  if (value === 5) {
    stroke = '#000';
    w = 2;
  } else if (dark.includes(value)) {
    stroke = '#1e1e1e';
  }
  return <line x1={x1} x2={x2} y1={y1} y2={y1} stroke={stroke} strokeWidth={w} />;
};

const Panel = ({ cfg, index }: { cfg: (typeof PANELS)[number]; index: number }) => {
  const top = PANEL_TOPS[index];
  const data = buildPoints(cfg.main, cfg.mid, cfg.extra);
  return (
    <>
      <div
        style={{
          position: 'absolute', left: 15, top: top - 43, height: 26, lineHeight: '26px',
          fontFamily: FONT, fontWeight: 'bold', fontSize: 19, color: '#333', whiteSpace: 'nowrap',
        }}
      >
        (cm)
      </div>
      <div
        style={{
          position: 'absolute', left: 299, top: top - 43, height: 30, lineHeight: '30px',
          fontFamily: '"Noto Sans CJK JP", "Liberation Sans", sans-serif', fontWeight: 'bold', fontSize: 23,
          letterSpacing: '0.3px', color: '#111', whiteSpace: 'nowrap',
        }}
      >
        {cfg.title}
      </div>
      <div style={{ position: 'absolute', left: 0, top: top - MARGIN_TOP }}>
        <ScatterChart width={CHART_W} height={MARGIN_TOP + PLOT_H + X_AXIS_H} margin={{ top: MARGIN_TOP, right: 0, bottom: 0, left: 0 }}>
          <CartesianGrid vertical={false} horizontal={makeGridLine(cfg.dark)} />
          <XAxis
            type="number" dataKey="d" domain={[0, X_END]} ticks={MONTH_DAYS} interval={0}
            tickSize={0} tickMargin={0} tickLine={false} tick={<XTick />} height={X_AXIS_H}
            axisLine={{ stroke: '#000', strokeWidth: 1.5 }} allowDataOverflow
          />
          <YAxis
            type="number" dataKey="v" domain={[-5, 5]} ticks={Y_TICKS} interval={0} width={AXIS_W}
            tickSize={0} tickMargin={0} tickLine={false} tick={<YTick />}
            axisLine={{ stroke: '#000', strokeWidth: 1.5 }} allowDataOverflow
          />
          <Scatter data={data} fill="#000" shape={Diamond} isAnimationActive={false} />
        </ScatterChart>
      </div>
    </>
  );
};

export default function App() {
  return (
    <div style={{ position: 'absolute', left: 0, top: 0, width: 1279, height: 1467, overflow: 'hidden', background: '#fff' }}>
      {PANELS.map((cfg, i) => (
        <Panel key={i} cfg={cfg} index={i} />
      ))}
    </div>
  );
}
